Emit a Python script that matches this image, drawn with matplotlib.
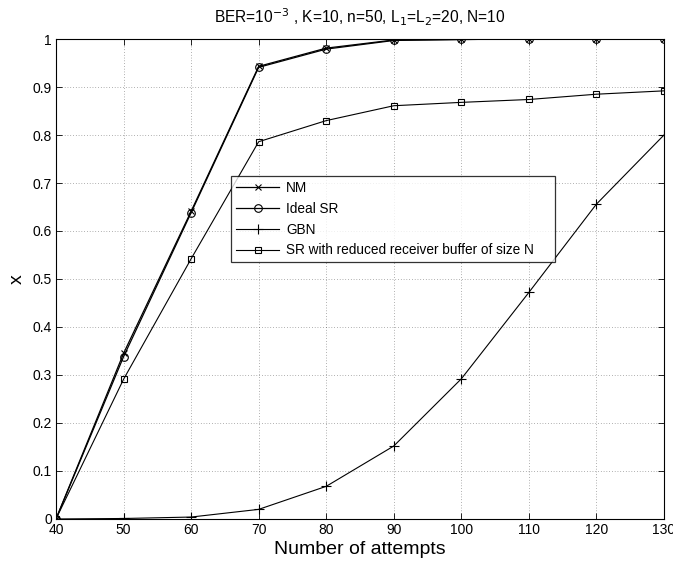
import numpy as np
import matplotlib
matplotlib.use("Agg")
import matplotlib.pyplot as plt

plt.rcParams['font.family'] = ['Liberation Sans', 'DejaVu Sans']

# throughput vs number of attempts for the four schemes
attempts = [40, 50, 60, 70, 80, 90, 100, 110, 120, 130]
nm = [0, 0.345, 0.641, 0.943, 0.981, 0.998, 0.999, 1.0, 1.0, 1.0]
ideal_sr = [0, 0.338, 0.638, 0.941, 0.979, 0.997, 0.999, 1.0, 1.0, 1.0]
gbn = [0, 0.001, 0.004, 0.02, 0.068, 0.152, 0.292, 0.472, 0.656, 0.80]
sr_reduced = [0, 0.291, 0.542, 0.786, 0.830, 0.861, 0.868, 0.874, 0.885, 0.892]

xticks = list(range(40, 131, 10))
yticks = np.round(np.arange(0, 1.01, 0.1), 1)
yticklabels = ['0', '0.1', '0.2', '0.3', '0.4', '0.5', '0.6', '0.7', '0.8', '0.9', '1']

fig = plt.figure(figsize=(6.73, 5.63), dpi=100)
ax = fig.add_axes([0.0832, 0.0782, 0.9034, 0.8525])

ax.plot(attempts, nm, 'k-', marker='x', ms=4.5, mew=0.8, lw=0.9, label='NM')
ax.plot(attempts, ideal_sr, 'k-', marker='o', ms=5.5, mfc='none', mew=0.8, lw=0.9, label='Ideal SR')
ax.plot(attempts, gbn, 'k-', marker='+', ms=6.5, mew=0.8, lw=0.8, label='GBN')
ax.plot(attempts, sr_reduced, 'k-', marker='s', ms=4.8, mfc='none', mew=0.8, lw=0.8,
        label='SR with reduced receiver buffer of size N')

ax.set_xlim(40, 130)
ax.set_ylim(0, 1)
ax.set_xticks(xticks)
ax.set_yticks(yticks)
ax.set_yticklabels(yticklabels)
ax.tick_params(direction='in', top=True, right=True, labelsize=10, length=4, width=0.6, pad=3)
for s in ax.spines.values():
    s.set_linewidth(0.8)
ax.grid(True, linestyle=(0, (1, 3)), color='black', linewidth=0.5, alpha=0.6)

ax.set_xlabel('Number of attempts', fontsize=14, labelpad=3)
ax.set_ylabel('x', fontsize=14, rotation=90, labelpad=5)
ax.set_title(r'BER=10$^{-3}$ , K=10, n=50, L$_1$=L$_2$=20, N=10', fontsize=11.2, pad=11)

leg = ax.legend(loc='lower left', bbox_to_anchor=(0.288, 0.535, 0.533, 0.1775), mode='expand',
                fontsize=9.8, frameon=True, fancybox=False, borderaxespad=0,
                handlelength=3.2, handletextpad=0.5, labelspacing=0.5, borderpad=0.35)
leg.get_frame().set_edgecolor('black')
leg.get_frame().set_linewidth(0.9)

fig.savefig('out.png', dpi=100)
